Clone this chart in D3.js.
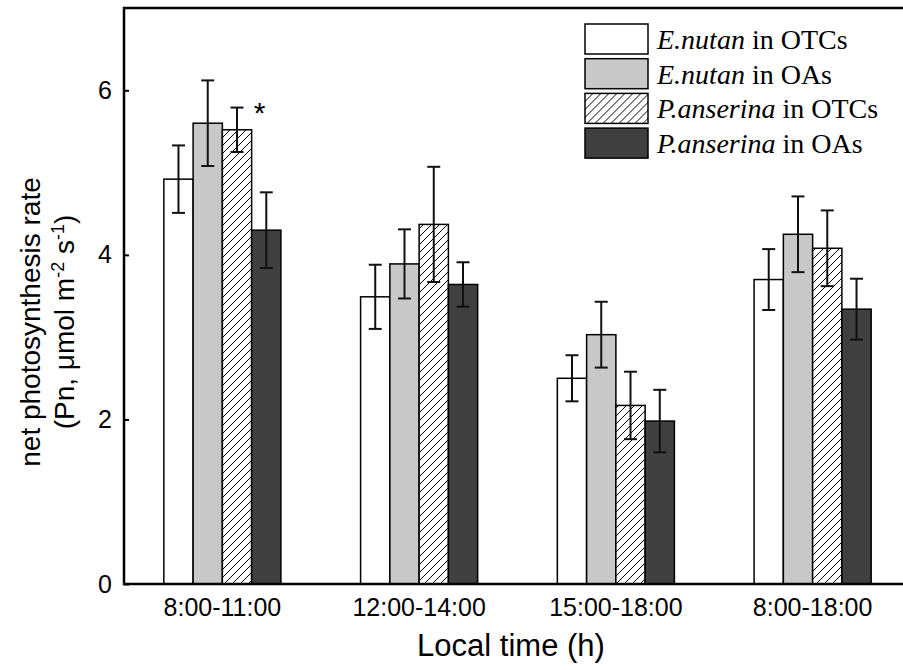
<!DOCTYPE html>
<html>
<head>
<meta charset="utf-8">
<script src="https://cdn.jsdelivr.net/npm/d3@7"></script>
<style>
body { margin: 0; background: #fff; }
</style>
</head>
<body>
<script>
// data
var categories = ["8:00-11:00", "12:00-14:00", "15:00-18:00", "8:00-18:00"];
var species = ["E.nutan", "E.nutan", "P.anserina", "P.anserina"];
var sites = ["in OTCs", "in OAs", "in OTCs", "in OAs"];

var enutanOTC = [4.92, 3.49, 2.50, 3.70];
var enutanOA = [5.60, 3.89, 3.03, 4.25];
var panserOTC = [5.52, 4.37, 2.17, 4.08];
var panserOA = [4.30, 3.64, 1.98, 3.34];

var enutanOTCerr = [0.41, 0.39, 0.28, 0.37];
var enutanOAerr = [0.52, 0.42, 0.40, 0.46];
var panserOTCerr = [0.27, 0.70, 0.41, 0.46];
var panserOAerr = [0.46, 0.27, 0.38, 0.37];

var yTicks = [0, 2, 4, 6];
var stars = [{cat: "8:00-11:00", s: 2, label: "*"}];

var values = [enutanOTC, enutanOA, panserOTC, panserOA];
var errors = [enutanOTCerr, enutanOAerr, panserOTCerr, panserOAerr];
var fills = ["#ffffff", "#c8c8c8", "url(#hatch)", "#404040"];

var w = 903;
var h = 670;
var plotLeft = 124, plotTop = 8, plotBottom = 584;
var plotRight = plotLeft + 4 * 196.75;

var svg = d3.select("body")
	.append("svg")
	.attr("width", w)
	.attr("height", h);

// hatch for P.anserina in OTCs
var pat = svg.append("defs").append("pattern")
	.attr("id", "hatch")
	.attr("patternUnits", "userSpaceOnUse")
	.attr("width", 8)
	.attr("height", 8);
pat.append("rect").attr("width", 8).attr("height", 8).attr("fill", "#fff");
pat.append("path")
	.attr("d", "M-2,2 L2,-2 M0,8 L8,0 M6,10 L10,6")
	.attr("stroke", "#000")
	.attr("stroke-width", 1);

var x0 = d3.scaleBand()
	.domain(categories)
	.range([plotLeft, plotRight])
	.paddingInner(0.405)
	.paddingOuter(0.2025);

var x1 = d3.scaleBand()
	.domain([0, 1, 2, 3])
	.range([0, x0.bandwidth()]);

var y = d3.scaleLinear()
	.domain([0, 7])
	.range([plotBottom, plotTop]);

// rows for bars
var rows = [];
categories.forEach(function(c, i) {
	for (var s = 0; s < 4; s++) {
		rows.push({cat: c, s: s, v: values[s][i], e: errors[s][i]});
	}
});

svg.selectAll("rect.bar")
	.data(rows)
	.enter()
	.append("rect")
	.attr("class", "bar")
	.attr("x", function(d) { return x0(d.cat) + x1(d.s); })
	.attr("y", function(d) { return y(d.v); })
	.attr("width", x1.bandwidth())
	.attr("height", function(d) { return plotBottom - y(d.v); })
	.attr("fill", function(d) { return fills[d.s]; })
	.attr("stroke", "#000")
	.attr("stroke-width", 1.5);

// error bars
var eb = svg.selectAll("g.err")
	.data(rows)
	.enter()
	.append("g")
	.attr("class", "err")
	.attr("stroke", "#111")
	.attr("stroke-width", 2);
eb.append("line")
	.attr("x1", function(d) { return x0(d.cat) + x1(d.s) + x1.bandwidth() / 2; })
	.attr("x2", function(d) { return x0(d.cat) + x1(d.s) + x1.bandwidth() / 2; })
	.attr("y1", function(d) { return y(d.v - d.e); })
	.attr("y2", function(d) { return y(d.v + d.e); });
[-1, 1].forEach(function(k) {
	eb.append("line")
		.attr("x1", function(d) { return x0(d.cat) + x1(d.s) + x1.bandwidth() / 2 - 6.5; })
		.attr("x2", function(d) { return x0(d.cat) + x1(d.s) + x1.bandwidth() / 2 + 6.5; })
		.attr("y1", function(d) { return y(d.v + k * d.e); })
		.attr("y2", function(d) { return y(d.v + k * d.e); });
});

// significance mark
svg.selectAll("text.star")
	.data(stars)
	.enter()
	.append("text")
	.attr("class", "star")
	.attr("x", function(d) { return x0(d.cat) + x1(d.s) + x1.bandwidth() + 8; })
	.attr("y", function(d) {
		var i = categories.indexOf(d.cat);
		return y(values[d.s][i] + errors[d.s][i]) + 15;
	})
	.attr("text-anchor", "middle")
	.attr("font-family", "Liberation Sans, Arial, sans-serif")
	.attr("font-size", 30)
	.text(function(d) { return d.label; });

// axes
var yAxis = d3.axisLeft(y)
	.tickValues(yTicks)
	.tickFormat(d3.format("d"))
	.tickSizeInner(-5)
	.tickSizeOuter(0)
	.tickPadding(12);
var gy = svg.append("g")
	.attr("transform", "translate(" + plotLeft + ",0)")
	.call(yAxis);
gy.select(".domain").remove();
gy.selectAll("line").attr("stroke", "#000").attr("stroke-width", 2);
gy.selectAll("text")
	.attr("font-family", "Liberation Sans, Arial, sans-serif")
	.attr("font-size", 25)
	.attr("fill", "#000");

var xAxis = d3.axisBottom(x0)
	.tickSize(0)
	.tickPadding(14);
var gx = svg.append("g")
	.attr("transform", "translate(0," + plotBottom + ")")
	.call(xAxis);
gx.select(".domain").remove();
gx.selectAll("text")
	.attr("font-family", "Liberation Sans, Arial, sans-serif")
	.attr("font-size", 25)
	.attr("fill", "#000");

// frame (right side runs past the picture)
svg.append("path")
	.attr("d", "M" + plotRight + "," + plotTop + " H" + plotLeft + " V" + plotBottom + " H" + plotRight)
	.attr("fill", "none")
	.attr("stroke", "#000")
	.attr("stroke-width", 2.5);

// axis titles
svg.append("text")
	.attr("x", 511)
	.attr("y", 656)
	.attr("text-anchor", "middle")
	.attr("font-family", "Liberation Sans, Arial, sans-serif")
	.attr("font-size", 31)
	.text("Local time (h)");

var yt = svg.append("text")
	.attr("transform", "translate(40,322) rotate(-90)")
	.attr("text-anchor", "middle")
	.attr("font-family", "Liberation Sans, Arial, sans-serif")
	.attr("font-size", 28);
yt.append("tspan").attr("x", 0).attr("dy", 0).text("net photosynthesis rate");
var t2 = yt.append("tspan").attr("x", 0).attr("dy", 34);
t2.append("tspan").text("(Pn, μmol m");
t2.append("tspan").attr("dy", -10).attr("font-size", 18).text("-2");
t2.append("tspan").attr("dy", 10).text(" s");
t2.append("tspan").attr("dy", -10).attr("font-size", 18).text("-1");
t2.append("tspan").attr("dy", 10).text(")");

// legend
var lg = svg.selectAll("g.legend")
	.data(species)
	.enter()
	.append("g")
	.attr("class", "legend")
	.attr("transform", function(d, i) { return "translate(585," + (24 + i * 34.7) + ")"; });
lg.append("rect")
	.attr("width", 63)
	.attr("height", 30)
	.attr("fill", function(d, i) { return fills[i]; })
	.attr("stroke", "#000")
	.attr("stroke-width", 1.5);
var lt = lg.append("text")
	.attr("x", 72)
	.attr("y", 25)
	.attr("font-family", "Liberation Serif, Times New Roman, serif")
	.attr("font-size", 28);
lt.append("tspan").attr("font-style", "italic").text(function(d) { return d; });
lt.append("tspan").text(function(d, i) { return " " + sites[i]; });
</script>
</body>
</html>
